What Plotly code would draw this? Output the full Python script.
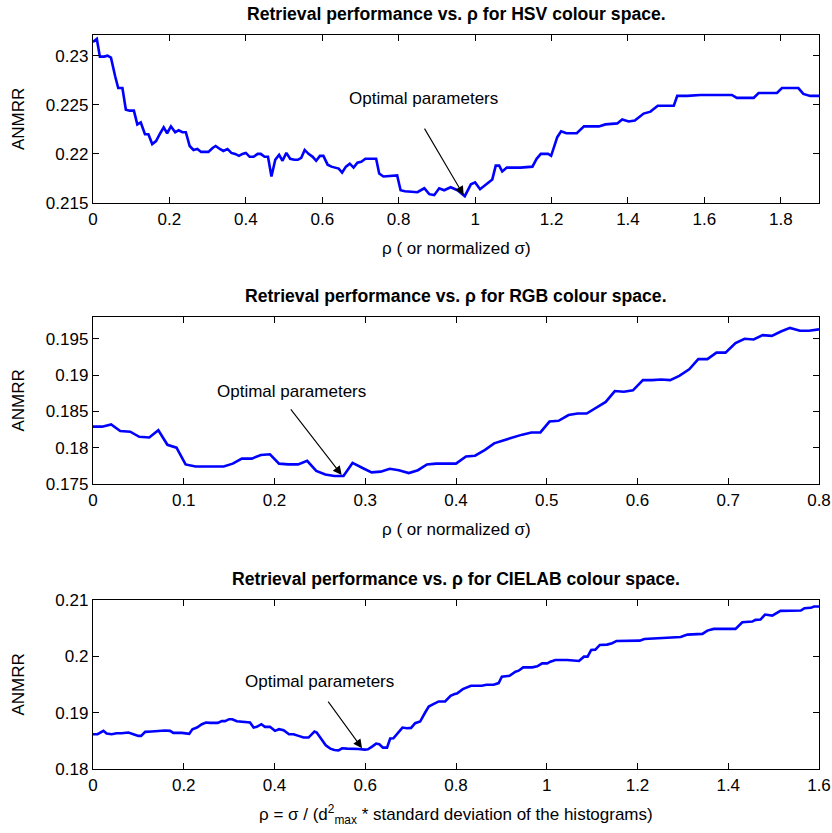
import plotly.graph_objects as go

# ---------------- data ----------------
hsv_rho = [0, 0.01, 0.018, 0.029, 0.038, 0.047, 0.058, 0.066, 0.077, 0.086, 0.096, 0.107, 0.116, 0.125,
           0.136, 0.145, 0.155, 0.165, 0.176, 0.185, 0.194, 0.204, 0.215, 0.224, 0.234, 0.243, 0.253,
           0.263, 0.273, 0.283, 0.293, 0.302, 0.313, 0.321, 0.332, 0.341, 0.352, 0.362, 0.372, 0.382,
           0.391, 0.400, 0.410, 0.420, 0.431, 0.439, 0.449, 0.458, 0.467, 0.477, 0.487, 0.496, 0.506,
           0.516, 0.527, 0.536, 0.545, 0.554, 0.564, 0.575, 0.584, 0.594, 0.603, 0.614, 0.624, 0.634,
           0.643, 0.652, 0.662, 0.672, 0.682, 0.692, 0.702, 0.713, 0.741, 0.749, 0.760, 0.796, 0.805,
           0.816, 0.836, 0.849, 0.867, 0.880, 0.893, 0.906, 0.919, 0.936, 0.954, 0.973, 0.989, 1.0,
           1.013, 1.025, 1.039, 1.045, 1.054, 1.063, 1.071, 1.083, 1.119, 1.15, 1.161, 1.172, 1.191,
           1.199, 1.215, 1.225, 1.239, 1.266, 1.285, 1.324, 1.341, 1.372, 1.385, 1.402, 1.418, 1.431,
           1.441, 1.459, 1.478, 1.52, 1.529, 1.555, 1.589, 1.65, 1.672, 1.685, 1.729, 1.742, 1.79,
           1.803, 1.846, 1.859, 1.877, 1.9]
hsv_anmrr = [0.2314, 0.2317, 0.2299, 0.2299, 0.2300, 0.2298, 0.2279, 0.2267, 0.2267, 0.2245, 0.2244,
             0.2244, 0.2230, 0.2232, 0.2220, 0.2220, 0.2210, 0.2213, 0.2221, 0.2227, 0.2221, 0.2228,
             0.2222, 0.2224, 0.2222, 0.2222, 0.2208, 0.2204, 0.2205, 0.2202, 0.2202, 0.2202, 0.2206,
             0.2208, 0.2205, 0.2203, 0.2205, 0.2201, 0.2200, 0.2198, 0.2200, 0.2201, 0.2197, 0.2197,
             0.2200, 0.2200, 0.2197, 0.2197, 0.2177, 0.2194, 0.2199, 0.2193, 0.2201, 0.2195, 0.2194,
             0.2194, 0.2196, 0.2204, 0.2200, 0.2197, 0.2193, 0.2198, 0.2198, 0.2189, 0.2187, 0.2186,
             0.2185, 0.2181, 0.2187, 0.2190, 0.2186, 0.2191, 0.2192, 0.2195, 0.2195, 0.2180, 0.2177,
             0.2178, 0.2163, 0.2162, 0.2161, 0.2161, 0.2165, 0.2159, 0.2158, 0.2165, 0.2163, 0.2166,
             0.2163, 0.2157, 0.2169, 0.2171, 0.2164, 0.2168, 0.2173, 0.2174, 0.2188, 0.2188, 0.2182,
             0.2186, 0.2186, 0.2187, 0.2195, 0.2200, 0.2200, 0.2198, 0.2217, 0.2223, 0.2221, 0.2221,
             0.2228, 0.2228, 0.2230, 0.2231, 0.2235, 0.2233, 0.2234, 0.2238, 0.2241, 0.2243, 0.2249,
             0.2249, 0.2259, 0.2259, 0.2260, 0.2260, 0.2260, 0.2257, 0.2257, 0.2262, 0.2262, 0.2267,
             0.2267, 0.2261, 0.2259, 0.2259]

rgb_rho = [0.000, 0.010, 0.020, 0.030, 0.041, 0.051, 0.062, 0.072, 0.082, 0.092, 0.102, 0.113, 0.123,
           0.133, 0.144, 0.154, 0.164, 0.175, 0.185, 0.195, 0.205, 0.215, 0.226, 0.236, 0.246, 0.256,
           0.266, 0.276, 0.286, 0.297, 0.307, 0.317, 0.327, 0.337, 0.348, 0.358, 0.368, 0.378, 0.388,
           0.400, 0.411, 0.421, 0.432, 0.442, 0.452, 0.462, 0.473, 0.483, 0.493, 0.503, 0.513, 0.524,
           0.534, 0.544, 0.554, 0.565, 0.575, 0.585, 0.595, 0.606, 0.616, 0.626, 0.636, 0.646, 0.657,
           0.667, 0.677, 0.687, 0.697, 0.708, 0.718, 0.728, 0.738, 0.748, 0.758, 0.768, 0.779, 0.789,
           0.800]
rgb_anmrr = [0.1829, 0.1829, 0.1832, 0.1823, 0.1822, 0.1815, 0.1814, 0.1824, 0.1804, 0.1800, 0.1777,
             0.1774, 0.1774, 0.1774, 0.1774, 0.1778, 0.1785, 0.1785, 0.1790, 0.1791, 0.1778, 0.1777,
             0.1777, 0.1782, 0.1768, 0.1763, 0.1761, 0.1761, 0.1779, 0.1772, 0.1766, 0.1767, 0.1771,
             0.1769, 0.1765, 0.1769, 0.1777, 0.1778, 0.1778, 0.1778, 0.1788, 0.1789, 0.1797, 0.1806,
             0.1810, 0.1814, 0.1818, 0.1821, 0.1821, 0.1836, 0.1837, 0.1845, 0.1847, 0.1847, 0.1855,
             0.1863, 0.1878, 0.1877, 0.1879, 0.1893, 0.1893, 0.1894, 0.1893, 0.1899, 0.1908, 0.1922,
             0.1922, 0.1931, 0.1931, 0.1944, 0.1950, 0.1949, 0.1955, 0.1954, 0.1960, 0.1965, 0.1961,
             0.1961, 0.1963]

lab_rho = [0.000, 0.010, 0.023, 0.030, 0.041, 0.052, 0.063, 0.078, 0.089, 0.100, 0.106, 0.115, 0.129,
           0.144, 0.159, 0.170, 0.177, 0.196, 0.203, 0.212, 0.219, 0.229, 0.240, 0.249, 0.258, 0.275,
           0.284, 0.291, 0.300, 0.307, 0.317, 0.328, 0.339, 0.346, 0.354, 0.361, 0.371, 0.379, 0.390,
           0.401, 0.410, 0.420, 0.432, 0.442, 0.453, 0.464, 0.475, 0.488, 0.493, 0.504, 0.513, 0.523,
           0.532, 0.541, 0.549, 0.560, 0.571, 0.585, 0.599, 0.606, 0.615, 0.624, 0.631, 0.639, 0.648,
           0.655, 0.662, 0.673, 0.682, 0.692, 0.701, 0.710, 0.721, 0.732, 0.740, 0.750, 0.762, 0.776,
           0.788, 0.797, 0.802, 0.815, 0.824, 0.833, 0.857, 0.867, 0.883, 0.894, 0.901, 0.918, 0.931,
           0.938, 0.948, 0.968, 0.979, 0.990, 1.001, 1.008, 1.019, 1.045, 1.071, 1.082, 1.090, 1.098,
           1.107, 1.117, 1.133, 1.144, 1.154, 1.170, 1.205, 1.215, 1.247, 1.265, 1.295, 1.310, 1.343,
           1.354, 1.368, 1.416, 1.427, 1.431, 1.453, 1.460, 1.471, 1.481, 1.497, 1.515, 1.560, 1.568,
           1.582, 1.589, 1.600]
lab_anmrr = [0.18617, 0.18617, 0.18677, 0.18629, 0.18617, 0.18635, 0.18635, 0.18647, 0.18617, 0.18588,
             0.18588, 0.18659, 0.18665, 0.18677, 0.18683, 0.18677, 0.18641, 0.18641, 0.18629, 0.18623,
             0.18706, 0.18736, 0.18795, 0.18825, 0.18819, 0.18819, 0.18849, 0.18849, 0.18884, 0.18884,
             0.18849, 0.18837, 0.18825, 0.18825, 0.18736, 0.18748, 0.18795, 0.18748, 0.18748, 0.18677,
             0.18706, 0.18688, 0.18617, 0.18617, 0.18588, 0.18558, 0.18558, 0.18665, 0.18647, 0.18528,
             0.18421, 0.18362, 0.18338, 0.18332, 0.18368, 0.18362, 0.18362, 0.18356, 0.18344, 0.18350,
             0.18398, 0.18451, 0.18439, 0.18380, 0.18380, 0.18540, 0.18546, 0.18647, 0.18736, 0.18724,
             0.18730, 0.18813, 0.18843, 0.19003, 0.19110, 0.19151, 0.19199, 0.19199, 0.19300, 0.19330,
             0.19340, 0.19418, 0.19442, 0.19478, 0.19478, 0.19496, 0.19496, 0.19525, 0.19638, 0.19656,
             0.19727, 0.19745, 0.19804, 0.19804, 0.19822, 0.19875, 0.19875, 0.19905, 0.19935, 0.19935,
             0.19917, 0.19994, 0.19994, 0.20113, 0.20119, 0.20202, 0.20208, 0.20232, 0.20273, 0.20279,
             0.20279, 0.20309, 0.20321, 0.20338, 0.20344, 0.20386, 0.20398, 0.20457, 0.20487, 0.20487,
             0.20576, 0.20606, 0.20617, 0.20647, 0.20653, 0.20742, 0.20724, 0.20807, 0.20813, 0.20855,
             0.20861, 0.20885, 0.20885]

titles = ["Retrieval performance vs. ρ for HSV colour space.",
          "Retrieval performance vs. ρ for RGB colour space.",
          "Retrieval performance vs. ρ for CIELAB colour space."]
x_titles = ["ρ ( or normalized σ)",
            "ρ ( or normalized σ)",
            "ρ = σ / (d<sup>2</sup><sub>max</sub> * standard deviation of the histograms)"]
y_title = "ANMRR"
annot_text = "Optimal parameters"

hsv_xticks = [0, 0.2, 0.4, 0.6, 0.8, 1, 1.2, 1.4, 1.6, 1.8]
hsv_xticklabels = ["0", "0.2", "0.4", "0.6", "0.8", "1", "1.2", "1.4", "1.6", "1.8"]
hsv_yticks = [0.215, 0.22, 0.225, 0.23]
hsv_yticklabels = ["0.215", "0.22", "0.225", "0.23"]
rgb_xticks = [0, 0.1, 0.2, 0.3, 0.4, 0.5, 0.6, 0.7, 0.8]
rgb_xticklabels = ["0", "0.1", "0.2", "0.3", "0.4", "0.5", "0.6", "0.7", "0.8"]
rgb_yticks = [0.175, 0.18, 0.185, 0.19, 0.195]
rgb_yticklabels = ["0.175", "0.18", "0.185", "0.19", "0.195"]
lab_xticks = [0, 0.2, 0.4, 0.6, 0.8, 1, 1.2, 1.4, 1.6]
lab_xticklabels = ["0", "0.2", "0.4", "0.6", "0.8", "1", "1.2", "1.4", "1.6"]
lab_yticks = [0.18, 0.19, 0.2, 0.21]
lab_yticklabels = ["0.18", "0.19", "0.2", "0.21"]

# optimal points (arrow heads)
opt_points = [(0.970, 0.2158), (0.274, 0.17625), (0.593, 0.18370)]

# ---------------- figure ----------------
W, H = 832, 833
ML, MR, MT, MB = 93, 13, 35, 64
PH = H - MT - MB  # plot-area height in px


def dom(top_px, bot_px):
    return [(H - MB - bot_px) / PH, (H - MB - top_px) / PH]


FONT = "Liberation Sans, Arial, Helvetica, sans-serif"
BLUE = "#0000FF"

fig = go.Figure()
series = [(hsv_rho, hsv_anmrr), (rgb_rho, rgb_anmrr), (lab_rho, lab_anmrr)]
for i, (xs, ys) in enumerate(series):
    sfx = "" if i == 0 else str(i + 1)
    fig.add_trace(go.Scatter(x=xs, y=ys, mode="lines", xaxis="x" + sfx, yaxis="y" + sfx,
                             line=dict(color=BLUE, width=2.6), showlegend=False,
                             hoverinfo="skip"))

panel_px = [(35, 203), (317, 484), (600, 769)]
xranges = [[0, 1.9], [0, 0.8], [0, 1.6]]
yranges = [[0.215, 0.2321], [0.175, 0.198], [0.18, 0.21]]
xticks = [(hsv_xticks, hsv_xticklabels), (rgb_xticks, rgb_xticklabels), (lab_xticks, lab_xticklabels)]
yticks = [(hsv_yticks, hsv_yticklabels), (rgb_yticks, rgb_yticklabels), (lab_yticks, lab_yticklabels)]

axis_common = dict(showline=True, linecolor="black", linewidth=1.4, mirror="ticks",
                   ticks="inside", ticklen=6, tickwidth=1.2, tickcolor="black",
                   showgrid=False, zeroline=False, automargin=False,
                   tickfont=dict(family=FONT, size=17, color="black"))

layout = dict(width=W, height=H, margin=dict(l=ML, r=MR, t=MT, b=MB, autoexpand=False),
              paper_bgcolor="white", plot_bgcolor="white", showlegend=False)

annotations = []
for i in range(3):
    sfx = "" if i == 0 else str(i + 1)
    top, bot = panel_px[i]
    layout["xaxis" + sfx] = dict(axis_common, domain=[0, 1], range=xranges[i],
                                 tickvals=xticks[i][0], ticktext=xticks[i][1],
                                 anchor="y" + sfx)
    layout["yaxis" + sfx] = dict(axis_common, domain=dom(top, bot), range=yranges[i],
                                 tickvals=yticks[i][0], ticktext=yticks[i][1],
                                 anchor="x" + sfx)
    # title
    annotations.append(dict(text="<b>" + titles[i] + "</b>", xref="paper", yref="paper",
                            x=0.5, y=(H - MB - (top - 21)) / PH, xanchor="center", yanchor="middle",
                            showarrow=False, font=dict(family=FONT, size=17.6, color="black")))
    # x title
    annotations.append(dict(text=x_titles[i], xref="paper", yref="paper",
                            x=0.5, y=(H - MB - (bot + 45)) / PH, xanchor="center", yanchor="middle",
                            showarrow=False, font=dict(family=FONT, size=17, color="black")))
    # y title
    annotations.append(dict(text=y_title, xref="paper", yref="paper", textangle=-90,
                            x=(18 - ML) / (W - ML - MR), y=(H - MB - (top + bot) / 2) / PH,
                            xanchor="center", yanchor="middle",
                            showarrow=False, font=dict(family=FONT, size=17, color="black")))

# "Optimal parameters" labels and arrows
label_pos = [(0.866, 0.22568), (0.219, 0.18775), (0.500, 0.19548)]
arrow_off = [(-40, -68), (-52, -67), (-35, -48)]
for i in range(3):
    sfx = "" if i == 0 else str(i + 1)
    lx, ly = label_pos[i]
    annotations.append(dict(text=annot_text, xref="x" + sfx, yref="y" + sfx, x=lx, y=ly,
                            xanchor="center", yanchor="middle", showarrow=False,
                            font=dict(family=FONT, size=17, color="black")))
    hx, hy = opt_points[i]
    annotations.append(dict(text="", xref="x" + sfx, yref="y" + sfx, x=hx, y=hy,
                            ax=arrow_off[i][0], ay=arrow_off[i][1], showarrow=True,
                            arrowhead=2, arrowsize=1.6, arrowwidth=1.1, arrowcolor="black"))

layout["annotations"] = annotations
fig.update_layout(**layout)
fig.write_html("out.html")
